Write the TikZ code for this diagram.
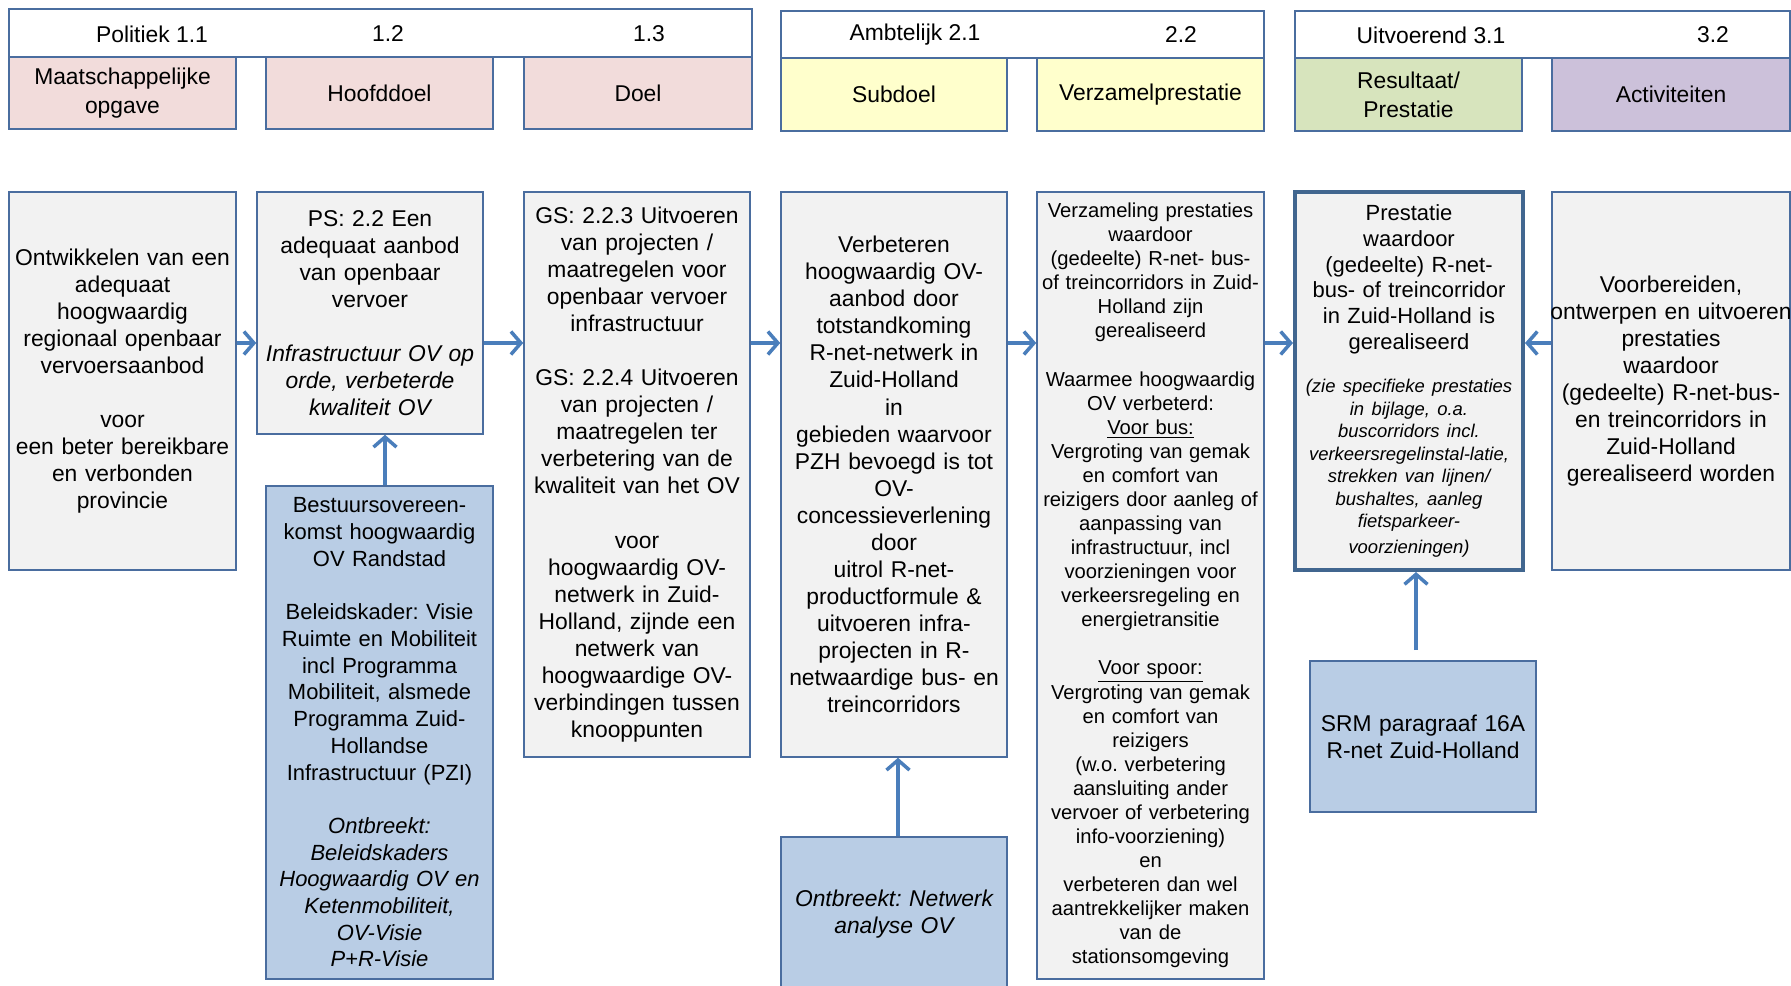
\documentclass[tikz,border=0pt]{standalone}
\usepackage{fontspec}
\setmainfont{Liberation Sans}
\frenchspacing
\usetikzlibrary{arrows.meta}
\definecolor{boxline}{HTML}{4A6D9F}
\definecolor{prestline}{HTML}{41668F}
\definecolor{arrowblue}{HTML}{4A7EBB}
\definecolor{boxgray}{HTML}{F2F2F2}
\definecolor{pinkhead}{HTML}{F2DCDB}
\definecolor{yellowhead}{HTML}{FFFFCC}
\definecolor{greenhead}{HTML}{D7E4BD}
\definecolor{purplehead}{HTML}{CCC1DA}
\definecolor{bluebox}{HTML}{B9CDE5}
\begin{document}
\begin{tikzpicture}[x=0.02cm,y=-0.02cm,
    bar/.style={draw=boxline,line width=0.9pt,fill=white,minimum height=0.96cm,inner sep=0pt},
    barlabel/.style={font=\fontsize{13}{15.4}\selectfont,inner sep=0pt},
    box/.style={draw=boxline,line width=0.9pt,fill=boxgray,align=center,inner sep=0pt,
        font=\fontsize{13}{15.4}\selectfont},
    flow/.style={draw=arrowblue,line width=2pt,-{Straight Barb[length=2mm,width=4.6mm]}}]
    \clip (0,0) rectangle (1791,985);
    \useasboundingbox (0,0) rectangle (1791,985);

    \node[bar,minimum width=14.86cm] (polbar) at (380.5,33) {};
    \node[barlabel] (pol1) at (152,34) {Politiek 1.1};
    \node[barlabel] (pol2) at (388,34) {1.2};
    \node[barlabel] (pol3) at (649,34) {1.3};
    \node[box,fill=pinkhead,text width=4.54cm,minimum height=1.44cm,font=\fontsize{13}{16.5}\selectfont] (hmaat) at (122.5,93) {Maatschappelijke\\opgave};
    \node[box,fill=pinkhead,text width=4.54cm,minimum height=1.44cm] (hhoofd) at (379.5,93) {Hoofddoel};
    \node[box,fill=pinkhead,text width=4.56cm,minimum height=1.44cm] (hdoel) at (638,93) {Doel};

    \node[bar,minimum width=9.66cm,minimum height=0.94cm] (ambbar) at (1022.5,34.5) {};
    \node[barlabel] (amb1) at (915,35) {Ambtelijk 2.1};
    \node[barlabel] (amb2) at (1181,35) {2.2};
    \node[box,fill=yellowhead,text width=4.52cm,minimum height=1.46cm] (hsub) at (894,94.5) {Subdoel};
    \node[box,fill=yellowhead,text width=4.54cm,minimum height=1.46cm] (hverz) at (1150.5,94.5) {Verzamelprestatie};

    \node[bar,minimum width=9.9cm,minimum height=0.94cm] (uitbar) at (1542.5,34.5) {};
    \node[barlabel] (uit1) at (1431,35) {Uitvoerend 3.1};
    \node[barlabel] (uit2) at (1713,35) {3.2};
    \node[box,fill=greenhead,text width=4.54cm,minimum height=1.46cm,font=\fontsize{13}{16.5}\selectfont] (hres) at (1408.5,94.5) {Resultaat/\\Prestatie};
    \node[box,fill=purplehead,text width=4.76cm,minimum height=1.46cm] (hact) at (1671,94.5) {Activiteiten};

    \node[box,text width=4.54cm,minimum height=7.56cm] (ontw) at (122.5,381)
        {Ontwikkelen van een\\adequaat\\hoogwaardig\\regionaal openbaar\\vervoersaanbod\\[\baselineskip]
         voor\\een beter bereikbare\\en verbonden\\provincie};
    \node[box,text width=4.52cm,minimum height=4.84cm] (ps) at (370,313)
        {PS: 2.2 Een\\adequaat aanbod\\van openbaar\\vervoer\\[\baselineskip]
         \itshape Infrastructuur OV op\\orde, verbeterde\\kwaliteit OV};
    \node[box,text width=4.52cm,minimum height=11.3cm] (gs) at (637,474.5)
        {GS: 2.2.3 Uitvoeren\\van projecten /\\maatregelen voor\\openbaar vervoer\\infrastructuur\\[\baselineskip]
         GS: 2.2.4 Uitvoeren\\van projecten /\\maatregelen ter\\verbetering van de\\kwaliteit van het OV\\[\baselineskip]
         voor\\hoogwaardig OV-\\netwerk in Zuid-\\Holland, zijnde een\\netwerk van\\hoogwaardige OV-\\verbindingen tussen\\knooppunten};
    \node[box,text width=4.52cm,minimum height=11.3cm] (verb) at (894,474.5)
        {Verbeteren\\hoogwaardig OV-\\aanbod door\\totstandkoming\\R-net-netwerk in\\Zuid-Holland\\in\\
         gebieden waarvoor\\PZH bevoegd is tot\\OV-\\concessieverlening\\door\\uitrol R-net-\\
         productformule \&\\uitvoeren infra-\\projecten in R-\\netwaardige bus- en\\treincorridors};
    \node[box,text width=4.54cm,minimum height=15.74cm,font=\fontsize{11.5}{13.7}\selectfont] (verz) at (1150.5,585.5)
        {Verzameling prestaties\\waardoor\\(gedeelte) R-net- bus-\\of treincorridors in Zuid-\\Holland zijn\\gerealiseerd\\[\baselineskip]
         Waarmee hoogwaardig\\OV verbeterd:\\\underline{Voor bus:}\\Vergroting van gemak\\en comfort van\\
         reizigers door aanleg of\\aanpassing van\\infrastructuur, incl\\voorzieningen voor\\verkeersregeling en\\energietransitie\\[\baselineskip]
         \underline{Voor spoor:}\\Vergroting van gemak\\en comfort van\\reizigers\\(w.o. verbetering\\aansluiting ander\\
         vervoer of verbetering\\info-voorziening)\\en\\verbeteren dan wel\\aantrekkelijker maken\\van de\\stationsomgeving};
    \node[box,draw=prestline,line width=2.3pt,text width=4.56cm,minimum height=7.56cm,font=\fontsize{12.5}{14.6}\selectfont] (prest) at (1409,381)
        {Prestatie\\waardoor\\(gedeelte) R-net-\\bus- of treincorridor\\in Zuid-Holland is\\gerealiseerd\\[12pt]
         \fontsize{10.5}{12.8}\selectfont\itshape (zie specifieke prestaties\\in bijlage, o.a.\\buscorridors incl.\\
         verkeersregelinstal-latie,\\strekken van lijnen/\\bushaltes, aanleg\\fietsparkeer-\\voorzieningen)};
    \node[box,text width=4.76cm,minimum height=7.56cm] (voorb) at (1671,381)
        {Voorbereiden,\\\makebox[\linewidth][c]{ontwerpen en uitvoeren}\\prestaties\\waardoor\\(gedeelte) R-net-bus-\\en treincorridors in\\
         Zuid-Holland\\gerealiseerd worden};

    \node[box,fill=bluebox,text width=4.54cm,minimum height=9.86cm,font=\fontsize{12.5}{15.2}\selectfont] (bestuur) at (379.5,732.5)
        {Bestuursovereen-\\komst hoogwaardig\\OV Randstad\\[\baselineskip]
         Beleidskader: Visie\\Ruimte en Mobiliteit\\incl Programma\\Mobiliteit, alsmede\\Programma Zuid-\\Hollandse\\Infrastructuur (PZI)\\[\baselineskip]
         \itshape Ontbreekt:\\Beleidskaders\\Hoogwaardig OV en\\Ketenmobiliteit,\\OV-Visie\\P+R-Visie};
    \node[box,fill=bluebox,text width=4.52cm,minimum height=3.08cm,font=\fontsize{13}{15.4}\selectfont\itshape] (netw) at (894,914)
        {Ontbreekt: Netwerk\\analyse OV};
    \node[box,fill=bluebox,text width=4.52cm,minimum height=3.02cm] (srm) at (1423,736.5)
        {SRM paragraaf 16A\\R-net Zuid-Holland};

    \coordinate (row) at (0,343);
    \draw[flow] (ontw.east |- row) -- (ps.west |- row);
    \draw[flow] (ps.east |- row) -- (gs.west |- row);
    \draw[flow] (gs.east |- row) -- (verb.west |- row);
    \draw[flow] (verb.east |- row) -- (verz.west |- row);
    \draw[flow] (verz.east |- row) -- (prest.west |- row);
    \draw[flow] (voorb.west |- row) -- (prest.east |- row);
    \draw[flow] ([xshift=0.11cm]bestuur.north) -- ([xshift=0.11cm]bestuur.north |- ps.south);
    \draw[flow] ([xshift=0.08cm]netw.north) -- ([xshift=0.08cm]netw.north |- verb.south);
    \draw[flow] ([xshift=-0.14cm,yshift=0.2cm]srm.north) -- ([xshift=-0.14cm]srm.north |- prest.south);
\end{tikzpicture}
\end{document}
